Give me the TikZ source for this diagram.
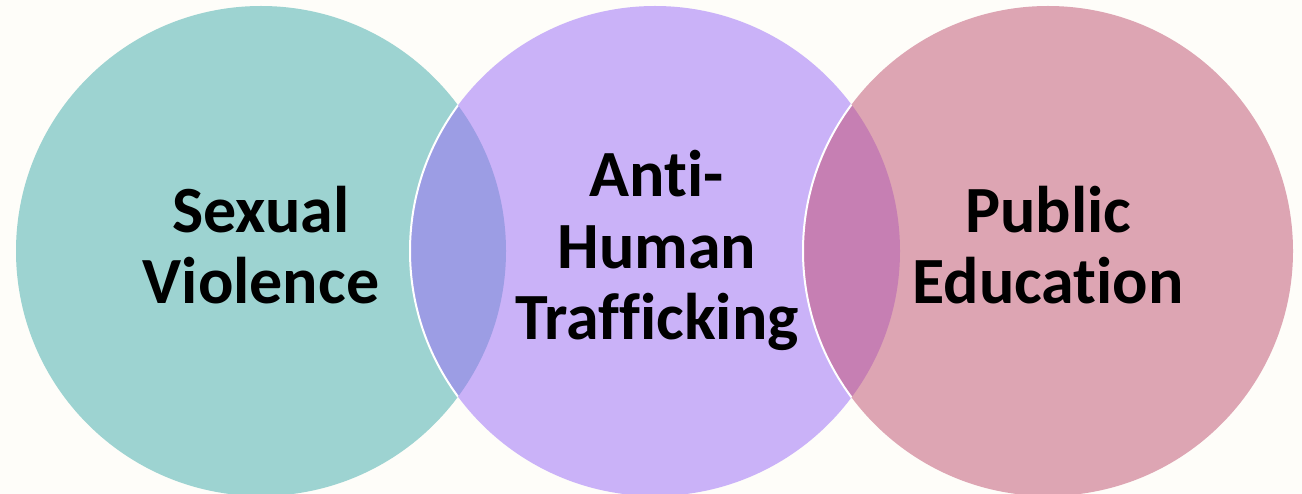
\documentclass[tikz,border=0pt]{standalone}
\usepackage{fontspec}
\setmainfont[Ligatures={NoCommon}]{Carlito}
\definecolor{bgc}{HTML}{FEFDF9}
\definecolor{teal1}{HTML}{9DD3D1}
\definecolor{purp1}{HTML}{CAB2F8}
\definecolor{pink1}{HTML}{DDA5B3}
\definecolor{lensA}{HTML}{9C9DE4}
\definecolor{lensB}{HTML}{C67FB3}
\begin{document}
\begin{tikzpicture}[x=1pt,y=-1pt,
  lbl/.style={font=\fontsize{66}{71.5}\selectfont\bfseries, align=center, inner sep=0pt, anchor=base, text=black},
  rim/.style={draw=white, line width=2pt}]
\fill[bgc] (0,0) rectangle (1302,494);
\useasboundingbox (0,0) rectangle (1302,494);
\coordinate (cL) at (261,251);
\coordinate (cM) at (655,251);
\coordinate (cR) at (1048,251);
\fill[teal1] (cL) circle[radius=245];
\fill[purp1] (cM) circle[radius=245];
\fill[pink1] (cR) circle[radius=245];
\begin{scope}
  \clip (cL) circle[radius=245];
  \fill[lensA] (cM) circle[radius=245];
  \draw[rim] (cM) circle[radius=245];
\end{scope}
\begin{scope}
  \clip (cM) circle[radius=245];
  \fill[lensB] (cR) circle[radius=245];
  \draw[rim] (cR) circle[radius=245];
\end{scope}
\node[lbl] (sv) at (261,304) {Sexual\\Violence};
\node[lbl] (aht) at (657,340) {Anti-\\Human\\Trafficking};
\node[lbl] (pe) at (1048,304) {Public\\Education};
\end{tikzpicture}
\end{document}
